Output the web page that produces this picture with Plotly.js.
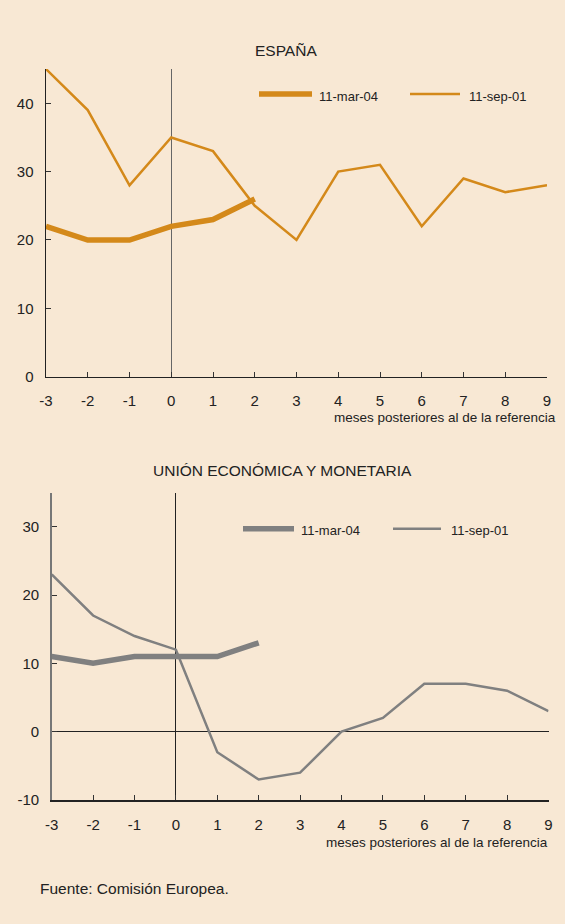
<!DOCTYPE html>
<html>
<head>
<meta charset="utf-8">
<script src="https://cdn.plot.ly/plotly-3.0.1.min.js"></script>
<style>
  html, body { margin: 0; padding: 0; background: #F8E8D4; }
  #chart { width: 565px; height: 924px; }
</style>
</head>
<body>
<div id="chart"></div>
<script>
// Months relative to the reference event
var months = [-3, -2, -1, 0, 1, 2, 3, 4, 5, 6, 7, 8, 9];
var monthsMar04 = [-3, -2, -1, 0, 1, 2];

// España
var espanaSep01 = [45, 39, 28, 35, 33, 25, 20, 30, 31, 22, 29, 27, 28];
var espanaMar04 = [22, 20, 20, 22, 23, 26];

// Unión Económica y Monetaria
var uemSep01 = [23, 17, 14, 12, -3, -7, -6, 0, 2, 7, 7, 6, 3];
var uemMar04 = [11, 10, 11, 11, 11, 13];

var seriesNames = ['11-mar-04', '11-sep-01'];
var yTicksTop = [0, 10, 20, 30, 40];
var yTicksBottom = [-10, 0, 10, 20, 30];

var W = 565, H = 924;
var ORANGE = '#D4891A';
var GREY = '#808080';
var BG = '#F8E8D4';
var FONT = 'Liberation Sans, Arial, sans-serif';
var THICK = 5.5, THIN = 2.5;

function px(x) { return x / W; }
function py(y) { return 1 - y / H; }

var traces = [
  { x: monthsMar04, y: espanaMar04, name: seriesNames[0], xaxis: 'x', yaxis: 'y',
    mode: 'lines', line: { color: ORANGE, width: THICK }, showlegend: false },
  { x: months, y: espanaSep01, name: seriesNames[1], xaxis: 'x', yaxis: 'y',
    mode: 'lines', line: { color: ORANGE, width: THIN }, showlegend: false },
  { x: monthsMar04, y: uemMar04, name: seriesNames[0], xaxis: 'x2', yaxis: 'y2',
    mode: 'lines', line: { color: GREY, width: THICK }, showlegend: false },
  { x: months, y: uemSep01, name: seriesNames[1], xaxis: 'x2', yaxis: 'y2',
    mode: 'lines', line: { color: GREY, width: THIN }, showlegend: false }
];

var tickFont = { family: FONT, size: 15, color: '#222' };

function xAxis(domain, anchor, lineColor, zeroColor, zeroWidth) {
  return {
    domain: domain, anchor: anchor, range: [-3, 9],
    tickmode: 'array', tickvals: months, ticktext: months.map(String),
    ticks: 'inside', ticklen: 5, tickwidth: 1, tickcolor: '#333',
    showline: true, linecolor: lineColor, linewidth: 1.5,
    showgrid: false, zeroline: true, zerolinecolor: zeroColor, zerolinewidth: zeroWidth,
    tickfont: tickFont, ticklabelstandoff: 10, fixedrange: true
  };
}

function yAxis(domain, anchor, range, ticks, lineColor, zero) {
  return {
    domain: domain, anchor: anchor, range: range,
    tickmode: 'array', tickvals: ticks, ticktext: ticks.map(String),
    ticks: 'inside', ticklen: 5, tickwidth: 1, tickcolor: '#333',
    showline: true, linecolor: lineColor, linewidth: 1.5,
    showgrid: false, zeroline: zero, zerolinecolor: '#222', zerolinewidth: 1,
    tickfont: tickFont, ticklabelstandoff: 8, fixedrange: true
  };
}

function label(text, x, y, size, anchor) {
  return { text: text, xref: 'paper', yref: 'paper', x: px(x), y: py(y),
    xanchor: anchor || 'center', yanchor: 'middle', showarrow: false,
    font: { family: FONT, size: size, color: '#222' } };
}

function keyLine(x0, x1, y, color, width) {
  return { type: 'line', xref: 'paper', yref: 'paper',
    x0: px(x0), x1: px(x1), y0: py(y), y1: py(y),
    line: { color: color, width: width } };
}

var layout = {
  width: W, height: H, autosize: false,
  margin: { l: 0, r: 0, t: 0, b: 0 },
  paper_bgcolor: BG, plot_bgcolor: BG,
  showlegend: false,
  font: { family: FONT, color: '#222' },
  xaxis: xAxis([px(46), px(547)], 'y', '#222', '#666', 1.5),
  yaxis: yAxis([py(376.7), py(69.1)], 'x', [0, 45], yTicksTop, '#222', false),
  xaxis2: xAxis([px(51.7), px(548.5)], 'y2', '#222', '#222', 1),
  yaxis2: yAxis([py(800), py(492.5)], 'x2', [-10, 35], yTicksBottom, '#777', true),
  shapes: [
    keyLine(259, 312, 94, ORANGE, THICK),
    keyLine(410, 460, 94, ORANGE, THIN),
    keyLine(243, 294, 528.7, GREY, THICK),
    keyLine(393, 441, 528.7, GREY, THIN)
  ],
  annotations: [
    label('ESPAÑA', 286, 50, 15.5),
    label('UNIÓN ECONÓMICA Y MONETARIA', 282, 470, 15.5),
    label(seriesNames[0], 317, 96, 13, 'left'),
    label(seriesNames[1], 467, 96, 13, 'left'),
    label(seriesNames[0], 299, 530, 13, 'left'),
    label(seriesNames[1], 449, 530, 13, 'left'),
    label('meses posteriores al de la referencia', 558, 418, 13.5, 'right'),
    label('meses posteriores al de la referencia', 549.5, 842, 13.5, 'right'),
    label('Fuente: Comisión Europea.', 38, 888, 15.5, 'left')
  ]
};

Plotly.newPlot('chart', traces, layout, { displayModeBar: false, staticPlot: true });
</script>
</body>
</html>
